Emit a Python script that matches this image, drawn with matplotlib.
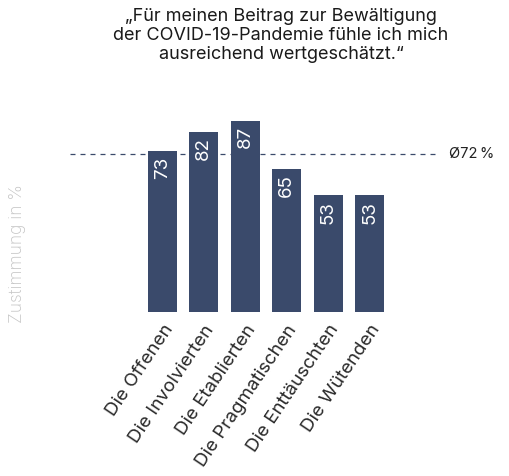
import matplotlib.pyplot as plt

plt.rcParams['font.family'] = ['Inter', 'DejaVu Sans']

title = '„Für meinen Beitrag zur Bewältigung\nder COVID-19-Pandemie fühle ich mich\nausreichend wertgeschätzt.“'
categories = ['Die Offenen', 'Die Involvierten', 'Die Etablierten',
              'Die Pragmatischen', 'Die Enttäuschten', 'Die Wütenden']
values = [73, 82, 87, 65, 53, 53]
average = 72

bar_color = '#3a4a6b'

fig = plt.figure(figsize=(5.09, 4.76), dpi=100)
ax = fig.add_axes([70 / 509, (476 - 312) / 476, 370 / 509, 212 / 476])

x = list(range(len(categories)))
ax.bar(x, values, width=0.7, color=bar_color)
for xi, v in zip(x, values):
    ax.text(xi, v - 2.5, str(v), rotation=90, ha='center', va='top',
            color='white', fontsize=13.5)

ax.axhline(average, color=bar_color, linestyle=(0, (4, 4)), linewidth=0.9, zorder=0)
ax.text(1.025, average, 'Ø72\u2009%', transform=ax.get_yaxis_transform(),
        ha='left', va='center', fontsize=10.5, color='#222222')

ax.set_xlim(-2.23, 6.70)
ax.set_ylim(0, 96.4)
ax.set_xticks(x)
ax.set_xticklabels(categories, rotation=56, ha='right', rotation_mode='anchor',
                   fontsize=13.5, color='#2a2a2a')
ax.tick_params(axis='x', length=0, pad=7)
ax.set_yticks([])
for s in ax.spines.values():
    s.set_visible(False)

fig.text(18 / 509, 1 - 254 / 476, 'Zustimmung in %', rotation=90, ha='center',
         va='center', color='#c4c4c4', fontsize=12.5, fontweight='light')
fig.text(281 / 509, 1 - 8 / 476, title, ha='center', va='top', fontsize=13,
         linespacing=1.15, color='#1a1a1a')

fig.savefig('out.png', dpi=100)
